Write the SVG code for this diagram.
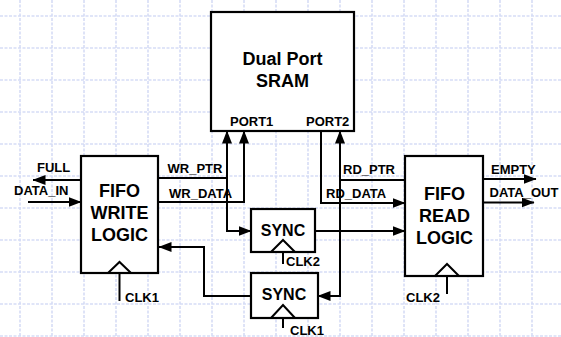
<svg xmlns="http://www.w3.org/2000/svg" width="561" height="337" viewBox="0 0 561 337">
<defs>
<marker id="arr" viewBox="0 0 13 10" markerWidth="13" markerHeight="10" markerUnits="userSpaceOnUse" refX="12.5" refY="5" orient="auto">
<path d="M0,0 L13,5 L0,10 z" fill="#000"/>
</marker>
<style>
.grid{stroke:#d6ddf6;stroke-width:1.6;stroke-dasharray:3 1.5;fill:none}
.box{fill:#fff;stroke:#000;stroke-width:2.2}
.clk{fill:none;stroke:#000;stroke-width:2}
.w{stroke:#000;stroke-width:2;fill:none}
.a{stroke:#000;stroke-width:2;fill:none;marker-end:url(#arr)}
.big{font-family:"Liberation Sans",Arial,sans-serif;font-weight:bold;font-size:18px;text-anchor:middle;fill:#000}
.mid{font-family:"Liberation Sans",Arial,sans-serif;font-weight:bold;font-size:16px;text-anchor:middle;fill:#000}
.sm{font-family:"Liberation Sans",Arial,sans-serif;font-weight:bold;font-size:13px;fill:#000}
</style>
</defs>
<rect width="561" height="337" fill="#fff"/>
<path class="grid" d="M20,0V337M52,0V337M84,0V337M116,0V337M148,0V337M180,0V337M212,0V337M244,0V337M276,0V337M308,0V337M340,0V337M372,0V337M404,0V337M436,0V337M468,0V337M500,0V337M532,0V337M0,16H561M0,48H561M0,80H561M0,112H561M0,144H561M0,176H561M0,208H561M0,240H561M0,272H561M0,304H561M0,336H561"/>

<g id="connectors">
<path class="a" d="M81,180H33"/>
<text class="sm" x="37" y="172">FULL</text>
<path class="a" d="M28,202H81"/>
<text class="sm" x="14" y="195">DATA_IN</text>
<path class="a" d="M158,178H227V131"/>
<path class="a" d="M227,178V231H251"/>
<text class="sm" x="167.5" y="173">WR_PTR</text>
<path class="a" d="M158,202H244V131"/>
<text class="sm" x="169" y="197.5">WR_DATA</text>
<path class="a" d="M315,231H405"/>
<path class="a" d="M321,131V203H405"/>
<text class="sm" x="326" y="197.5">RD_DATA</text>
<path class="a" d="M405,180H340V131"/>
<path class="a" d="M340,180V296H318"/>
<text class="sm" x="343" y="173.5">RD_PTR</text>
<path class="a" d="M251,296H204V247H159"/>
<path class="a" d="M483,179H536"/>
<text class="sm" x="491" y="173.5">EMPTY</text>
<path class="a" d="M483,202.5H534"/>
<text class="sm" x="489.5" y="196.5">DATA_OUT</text>
</g>

<g id="sram">
<rect class="box" x="211" y="12" width="143" height="119"/>
<text class="big" x="282.5" y="65" font-size="17">Dual Port</text>
<text class="big" x="282.5" y="87" font-size="17">SRAM</text>
<text class="sm" x="230" y="126" font-size="12.5">PORT1</text>
<text class="sm" x="306" y="126" font-size="12.5">PORT2</text>
</g>

<g id="write_logic">
<rect class="box" x="81" y="156" width="77" height="117"/>
<text class="big" x="119.5" y="197">FIFO</text>
<text class="big" x="119.5" y="219">WRITE</text>
<text class="big" x="119.5" y="241">LOGIC</text>
<path class="clk" d="M108,273L119.5,262L131,273"/>
<path class="w" d="M119.5,273V301"/>
<text class="sm" x="125" y="302">CLK1</text>
</g>

<g id="sync1">
<rect class="box" x="251" y="209" width="64" height="43"/>
<text class="mid" x="283" y="236">SYNC</text>
<path class="clk" d="M271,252L283,240L295,252"/>
<path class="w" d="M283,252V264"/>
<text class="sm" x="286" y="266">CLK2</text>
</g>

<g id="sync2">
<rect class="box" x="251" y="273" width="67" height="45"/>
<text class="mid" x="284" y="300">SYNC</text>
<path class="clk" d="M271,318L283,305L295,318"/>
<path class="w" d="M283,318V328"/>
<text class="sm" x="290" y="335">CLK1</text>
</g>

<g id="read_logic">
<rect class="box" x="405" y="156" width="78" height="120"/>
<text class="big" x="444.5" y="200">FIFO</text>
<text class="big" x="444.5" y="222">READ</text>
<text class="big" x="444.5" y="243.5">LOGIC</text>
<path class="clk" d="M435,276L447,264L459,276"/>
<path class="w" d="M447,276V294"/>
<text class="sm" x="406" y="302">CLK2</text>
</g>
</svg>
